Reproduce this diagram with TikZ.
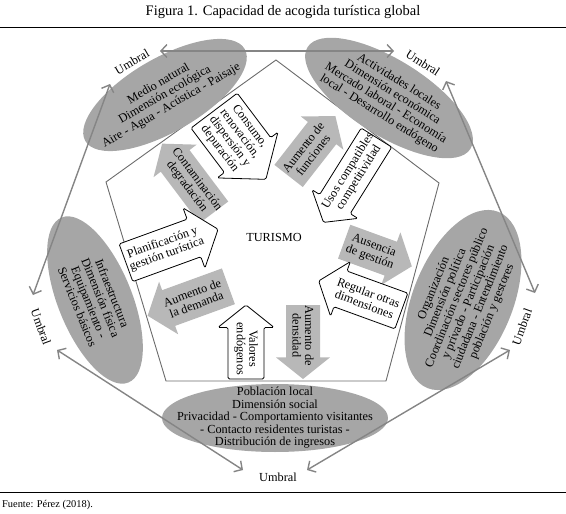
\documentclass[tikz,border=0pt]{standalone}
\usepackage{fontspec}
\setmainfont{Liberation Serif}
\usetikzlibrary{arrows.meta,shapes.geometric}
\definecolor{ellgray}{gray}{0.65}
\definecolor{arrgray}{gray}{0.72}
\definecolor{umbgray}{gray}{0.52}
\definecolor{pentgray}{gray}{0.42}
\newcommand\barrow[9]{%
\begin{scope}[shift={(#3)},rotate=#4]
\path[#2] ({-#6/2},{-#7/2}) -- ({#6/2-0.4*#8},{-#7/2}) -- ({#6/2-0.4*#8},{-#8/2}) -- ({#6/2},0) -- ({#6/2-0.4*#8},{#8/2}) -- ({#6/2-0.4*#8},{#7/2}) -- ({-#6/2},{#7/2}) -- cycle;
\node[txt, rotate=#5] (#1) at ({-0.12*#8},0) {#9};
\end{scope}}
\begin{document}
\begin{tikzpicture}[x=1pt,y=-1pt,
  txt/.style={font=\fontsize{12.3}{12.5}\selectfont, align=center, inner sep=0pt},
  ell/.style={ellipse, fill=ellgray, draw=none, inner sep=0pt},
  whitearr/.style={draw=black, fill=white, line width=0.8pt, rounded corners=1.5pt},
  grayarr/.style={fill=arrgray, draw=none},
  umb/.style={draw=umbgray, line width=1.4pt, {Straight Barb[length=6pt,width=13pt]}-{Straight Barb[length=6pt,width=13pt]}},
  pent/.style={draw=pentgray, line width=0.9pt}]
\useasboundingbox (0,0) rectangle (566,514);
% title and rules
\node[font=\fontsize{14.5}{16}\selectfont, inner sep=0pt] (title) at (283,12) {Figura 1. Capacidad de acogida turística global};
\coordinate (r1a) at (0,27); \coordinate (r1b) at (566,27);
\coordinate (r2a) at (0,492); \coordinate (r2b) at (566,492);
\draw[line width=0.9pt] (r1a) -- (r1b);
\draw[line width=0.9pt] (r2a) -- (r2b);
\node[font=\fontsize{10.4}{12}\selectfont, anchor=west, inner sep=0pt] (src) at (2,505) {Fuente: Pérez (2018).};
% pentagon
\coordinate (p1) at (276,60); \coordinate (p2) at (439,183); \coordinate (p3) at (386,381);
\coordinate (p4) at (166,381); \coordinate (p5) at (106,182);
\draw[pent] (p1) -- (p2) -- (p3) -- (p4) -- (p5) -- cycle;
\node[txt] (tur) at (274,237) {TURISMO};
% ellipses
\node[ell, minimum width=184pt, minimum height=74pt, rotate=30] (e1) at (165,95) {};
\node[txt, rotate=30] (t1) at (e1.center) {Medio natural\\Dimensión ecológica\\Aire - Agua - Acústica - Paisaje};
\node[ell, minimum width=192pt, minimum height=76pt, rotate=-32] (e2) at (389,98) {};
\node[txt, rotate=-32] (t2) at (e2.center) {Actividades locales\\Dimensión económica\\Mercado laboral - Economía\\local - Desarrollo endógeno};
\node[ell, minimum width=178pt, minimum height=74pt, rotate=-68] (e3) at (95,300) {};
\node[txt, rotate=-68] (t3) at (e3.center) {Infraestructura\\Dimensión física\\Equipamiento -\\Servicios básicos};
\node[ell, minimum width=190pt, minimum height=100pt, rotate=68] (e4) at (463,300) {};
\node[txt, rotate=68] (t4) at (e4.center) {Organización\\Dimensión política\\Coordinación sectores público\\y privado - Participación\\ciudadana - Entendimiento\\población y gestores};
\node[ell, minimum width=226pt, minimum height=68pt] (e5) at (275,418) {};
\node[txt] (t5) at (e5.center) {Población local\\Dimensión social\\Privacidad - Comportamiento visitantes\\- Contacto residentes turistas -\\Distribución de ingresos};
% umbral labels
\node[txt, rotate=30] (u1) at (132,62) {Umbral};
\node[txt, rotate=-33] (u2) at (423,63) {Umbral};
\node[txt, rotate=-70] (u3) at (41,327) {Umbral};
\node[txt, rotate=70] (u4) at (522,327) {Umbral};
\node[txt] (u5) at (278,477) {Umbral};
% umbral arrows
\coordinate (a1) at (160,51); \coordinate (a2) at (394,51);
\coordinate (b1) at (110,84); \coordinate (b2) at (33,295);
\coordinate (c1) at (57,350); \coordinate (c2) at (243,470);
\coordinate (d1) at (307,470); \coordinate (d2) at (510,350);
\coordinate (f1) at (446,81); \coordinate (f2) at (535,293);
\draw[umb] (a1) -- (a2);
\draw[umb] (b1) -- (b2);
\draw[umb] (c1) -- (c2);
\draw[umb] (d1) -- (d2);
\draw[umb] (f1) -- (f2);
% block arrows
\barrow{cons}{whitearr}{240,145}{-53}{-53}{86}{58}{76}{Consumo,\\renovación,\\dispersión y\\depuración}
\barrow{cont}{grayarr}{188,178}{127}{-53}{86}{36}{54}{Contaminación\\degradación}
\barrow{func}{grayarr}{312,146}{52}{52}{76}{36}{54}{Aumento de\\funciones}
\barrow{usos}{whitearr}{350,180}{-122}{58}{100}{36}{54}{Usos compatibles\\competitividad}
\barrow{ause}{grayarr}{378,254}{-20}{-20}{72}{36}{56}{Ausencia\\de gestión}
\barrow{regu}{whitearr}{360,296}{160}{-20}{88}{38}{58}{Regular otras\\dimensiones}
\barrow{dens}{grayarr}{303,342}{-90}{-90}{74}{34}{54}{Aumento de\\densidad}
\barrow{valo}{whitearr}{246,342}{90}{-90}{74}{36}{56}{Valores\\endógenos}
\barrow{plan}{whitearr}{172,246}{20}{20}{98}{40}{64}{Planificación y\\gestión turística}
\barrow{dema}{grayarr}{188,301}{-160}{20}{86}{38}{56}{Aumento de\\la demanda}
\end{tikzpicture}
\end{document}
